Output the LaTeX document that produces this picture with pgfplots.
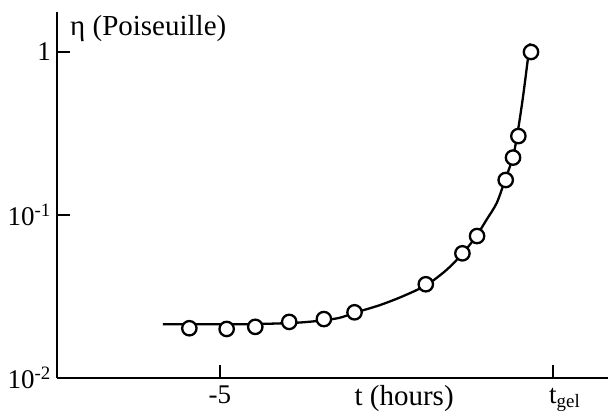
\documentclass[border=0pt]{standalone}
\usepackage{fontspec}
\setmainfont{Liberation Serif}
\usepackage{pgfplots}
\pgfplotsset{compat=1.18}

\begin{document}
\begin{tikzpicture}
\begin{axis}[
    name=ax,
    scale only axis,
    width=551pt,
    height=366pt,
    xmin=-7.447, xmax=0.826,
    ymode=log,
    ymin=0.01, ymax=1.76,
    axis x line*=bottom,
    axis y line*=left,
    axis line style={line width=2.5pt},
    tick align=inside,
    major tick length=13pt,
    every tick/.style={black, line width=2.5pt},
    yminorticks=false,
    xtick={-5,0},
    xticklabels={-5, t\rlap{\textsubscript{gel}}},
    ytick={0.01,0.1,1},
    yticklabels={10\textsuperscript{-2}, 10\textsuperscript{-1}, 1},
    xticklabel style={font=\fontsize{27}{31}\selectfont, inner sep=0pt, anchor=base, yshift=-25pt},
    yticklabel style={font=\fontsize{27}{31}\selectfont, inner sep=0pt, anchor=east, xshift=-6pt},
    xlabel={t (hours)},
    xlabel style={font=\fontsize{29}{33}\selectfont, inner sep=0pt,
        at={(axis description cs:0.63,0)}, anchor=base, yshift=-27pt},
    ylabel={η (Poiseuille)},
    ylabel style={font=\fontsize{29}{33}\selectfont, inner sep=0pt, rotate=-90,
        at={(axis description cs:0,1)}, anchor=base west, xshift=13pt, yshift=-23pt},
    clip=false,
]

% fitted curve
\addplot[black, line width=2.3pt, smooth, tension=0.5, no marks] coordinates {
    (-5.856,0.0214)
    (-5.20,0.0214)
    (-4.55,0.0214)
    (-3.80,0.0219)
    (-3.25,0.0232)
    (-2.97,0.0252)
    (-2.60,0.0280)
    (-2.25,0.0318)
    (-1.90,0.0372)
    (-1.60,0.0460)
    (-1.35,0.0585)
    (-1.15,0.0744)
    (-1.00,0.0932)
    (-0.845,0.1185)
    (-0.72,0.164)
    (-0.60,0.228)
    (-0.525,0.332)
    (-0.45,0.532)
    (-0.375,0.919)
    (-0.345,1.13)
};

% measured points
\addplot[only marks, mark=*, mark size=7.2pt, draw=black, fill=white, line width=2.3pt,
    mark options={draw=black, fill=white, line width=2.3pt}] coordinates {
    (-5.46,0.0202)
    (-4.90,0.0200)
    (-4.47,0.0206)
    (-3.96,0.0221)
    (-3.44,0.0230)
    (-2.98,0.0253)
    (-1.91,0.0376)
    (-1.36,0.0582)
    (-1.14,0.0743)
    (-0.71,0.164)
    (-0.60,0.225)
    (-0.52,0.305)
    (-0.33,1.0)
};
\end{axis}
\pgfresetboundingbox
\path[use as bounding box] ([xshift=-57pt,yshift=-33pt]ax.south west) rectangle ([yshift=12pt]ax.north east);
\end{tikzpicture}
\end{document}
